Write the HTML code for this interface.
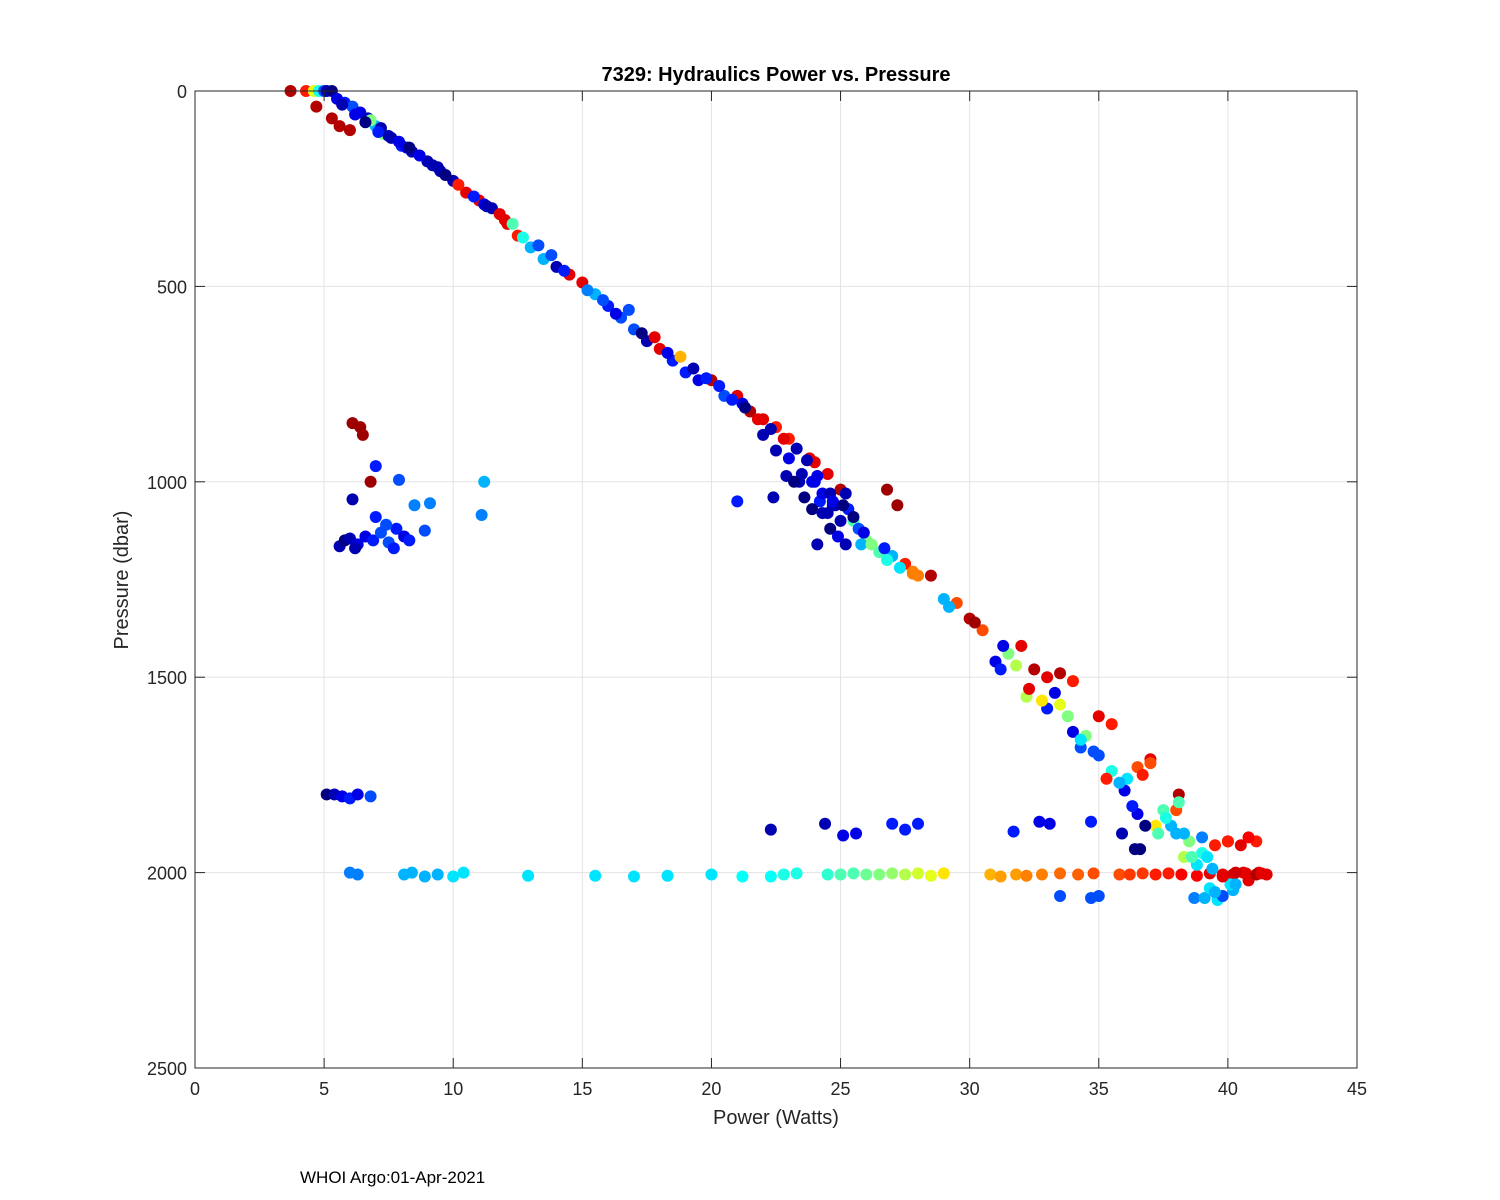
<!DOCTYPE html>
<html><head><meta charset="utf-8"><style>
body{margin:0;background:#fff;}
svg{display:block;font-family:"Liberation Sans",Arial,sans-serif;}
</style></head><body>
<svg id="chart" width="1500" height="1200" viewBox="0 0 1500 1200">
<rect x="0" y="0" width="1500" height="1200" fill="#fff"/>
<g id="grid"></g>
<g id="marks"></g>
<rect x="195" y="91" width="1162" height="977" fill="none" stroke="#262626" stroke-width="1"/>
<g id="ticks"></g>
<text x="776" y="81" text-anchor="middle" font-size="20" font-weight="bold" fill="#000">7329: Hydraulics Power vs. Pressure</text>
<text x="776" y="1124" text-anchor="middle" font-size="20" fill="#262626">Power (Watts)</text>
<text transform="translate(128,580) rotate(-90)" text-anchor="middle" font-size="20" fill="#262626">Pressure (dbar)</text>
<text x="300" y="1183" font-size="17" fill="#000">WHOI Argo:01-Apr-2021</text>
</svg>
<script>
const xTicks=[0,5,10,15,20,25,30,35,40,45];
const yTicks=[0,500,1000,1500,2000,2500];
const powerVals=[3.7,4.3,4.6,4.8,5.0,5.1,5.3,4.7,5.3,5.6,6.0,5.5,5.8,6.1,6.4,6.7,7.0,7.3,7.6,8.0,8.4,9.0,9.5,10.0,10.5,11.0,11.5,12.0,12.5,13.0,13.5,14.0,14.5,15.0,15.5,16.0,16.5,17.0,17.5,18.0,18.5,19.0,19.5,20.0,20.5,21.0,21.5,22.0,22.5,23.0,22.0,22.5,23.0,23.5,24.0,24.5,25.0,24.2,24.5,25.0,25.5,26.0,26.5,27.0,27.5,28.0,28.5,29.0,29.5,30.0,30.5,31.0,31.5,32.0,32.5,33.0,33.5,33.0,33.5,34.0,34.0,34.5,35.0,35.5,35.0,35.5,36.0,36.5,36.5,37.0,37.5,38.0,38.0,38.5,39.0,39.5,40.0,40.5,
6.8,7.2,8.2,9.4,11.2,12.1,12.7,13.8,16.8,17.8,18.8,19.8,21.2,23.8,24.8,25.8,26.8,27.8,31.2,32.2,34.3,36.1,37.2,38.3,39.2,
6.1,6.4,6.5,7.0,6.8,7.9,6.1,8.5,9.1,11.2,11.1,8.9,5.6,5.8,6.0,6.3,6.6,6.9,7.2,7.5,7.8,8.1,8.3,7.0,7.4,7.7,6.2,
21.0,22.4,22.9,23.4,23.9,24.3,24.7,25.2,24.0,26.8,27.2,
5.1,5.4,5.7,6.0,6.3,6.8,
6.0,6.3,8.1,8.4,8.9,9.4,10.0,10.4,12.9,15.5,17.0,18.3,20.0,21.2,22.3,22.8,23.3,24.5,25.0,25.5,26.0,26.5,27.0,27.5,28.0,28.5,29.0,30.8,31.2,31.8,32.2,32.8,33.5,34.2,34.8,35.8,36.2,36.7,37.2,37.7,38.2,38.8,39.3,39.8,40.2,40.7,41.2,41.5,
22.3,24.4,25.1,25.6,27.0,27.5,28.0,31.7,32.7,33.1,34.7,
33.5,34.7,35.0,38.7,39.1,39.6,40.2,
36.6,38.1,40.6,41.1,40.1,
5.7,6.2,6.6,7.1,7.5,7.9,8.3,8.7,9.2,9.7,10.2,10.8,11.3,11.8,12.3,13.3,14.3,15.2,15.8,16.3,17.3,18.3,19.3,20.3,20.8,21.3,21.8,22.3,22.8,23.3,23.7,24.1,24.6,25.3,25.7,26.2,26.7,27.3,27.8,29.2,30.2,31.3,31.8,32.3,32.8,33.3,33.8,34.3,34.8,35.3,35.8,36.3,36.8,37.3,37.8,38.3,38.8,39.3,39.8,40.3,40.8,41.2,
23.2,23.6,24.3,24.6,24.9,25.2,25.5,25.9,23.9,24.1,24.7,25.1,
38.6,39.0,39.4,39.8,40.3,40.8,41.1,41.3,40.0,39.5,
36.4,35.9,36.7,37.0,37.6,38.1];
const pressureVals=[0,0,0,0,0,0,0,40,70,90,100,20,30,40,55,70,90,110,120,140,155,180,205,230,260,280,300,330,370,400,430,450,470,490,520,550,580,610,640,660,690,720,740,740,780,780,820,840,860,890,880,920,940,980,950,980,1020,1050,1080,1100,1100,1150,1180,1190,1210,1240,1240,1300,1310,1350,1380,1460,1440,1420,1480,1500,1490,1580,1570,1510,1640,1650,1600,1620,1700,1740,1790,1850,1730,1710,1840,1840,1900,1920,1950,1930,1920,1930,
75,95,145,195,290,340,375,420,560,630,680,735,800,940,1060,1160,1200,1230,1480,1550,1680,1760,1880,1900,1960,
850,860,880,960,1000,995,1045,1060,1055,1000,1085,1125,1165,1150,1145,1160,1140,1150,1130,1155,1120,1140,1150,1090,1110,1170,1170,
1050,1040,985,1000,1000,1030,1060,1030,1000,1020,1060,
1800,1800,1805,1810,1800,1805,
2000,2005,2005,2000,2010,2005,2010,2000,2008,2008,2010,2008,2005,2010,2010,2005,2002,2005,2005,2002,2005,2005,2002,2005,2002,2008,2002,2005,2010,2005,2008,2005,2002,2005,2002,2005,2005,2002,2005,2002,2005,2008,2002,2005,2005,2002,2002,2005,
1890,1875,1905,1900,1875,1890,1875,1895,1870,1875,1870,
2060,2065,2060,2065,2065,2070,2045,
1940,1800,2000,1920,2030,
35,60,80,105,115,130,145,165,190,215,240,270,295,315,340,395,460,510,535,570,620,670,710,755,790,810,840,865,890,915,945,985,1030,1070,1120,1160,1170,1220,1235,1320,1360,1420,1470,1530,1560,1540,1600,1660,1690,1760,1770,1830,1880,1900,1880,1960,1980,2040,2060,2030,2020,2000,
1000,1040,1080,1120,1140,1160,1090,1130,1070,1160,1050,1060,
1960,1910,1990,2010,2000,1910,2005,2002,1920,2050,
1940,1900,1750,1720,1860,1820];
const colorVals=[0.95,0.85,0.6,0.4,0.2,0.05,0.0,0.95,0.95,0.95,0.95,0.1,0.15,0.2,0.1,0.05,0.3,0.5,0.05,0.15,0.05,0.05,0.05,0.05,0.9,0.9,0.05,0.9,0.85,0.3,0.3,0.05,0.9,0.9,0.3,0.15,0.2,0.2,0.05,0.9,0.15,0.15,0.1,0.95,0.2,0.9,0.95,0.9,0.85,0.85,0.05,0.05,0.1,0.05,0.9,0.9,0.95,0.15,0.05,0.05,0.45,0.5,0.45,0.3,0.85,0.75,0.95,0.3,0.8,0.95,0.8,0.1,0.5,0.9,0.95,0.9,0.95,0.15,0.6,0.85,0.1,0.5,0.9,0.85,0.2,0.4,0.1,0.1,0.8,0.9,0.45,0.8,0.3,0.5,0.4,0.85,0.9,0.9,
0.5,0.05,0.1,0.05,0.1,0.9,0.4,0.2,0.2,0.9,0.7,0.15,0.1,0.9,0.05,0.3,0.4,0.75,0.15,0.55,0.2,0.35,0.65,0.3,0.35,
0.97,0.97,0.97,0.15,0.97,0.2,0.05,0.25,0.25,0.3,0.25,0.2,0.05,0.0,0.05,0.1,0.1,0.15,0.2,0.2,0.15,0.1,0.15,0.15,0.2,0.15,0.05,
0.15,0.05,0.05,0.05,0.1,0.1,0.05,0.05,0.1,0.97,0.97,
0.0,0.05,0.1,0.15,0.1,0.2,
0.25,0.25,0.3,0.3,0.3,0.3,0.35,0.35,0.35,0.35,0.35,0.35,0.35,0.38,0.38,0.4,0.4,0.42,0.45,0.45,0.48,0.5,0.52,0.55,0.58,0.6,0.65,0.7,0.72,0.72,0.75,0.75,0.77,0.78,0.8,0.8,0.82,0.82,0.85,0.85,0.88,0.88,0.9,0.9,0.92,0.9,0.9,0.9,
0.05,0.05,0.1,0.1,0.15,0.15,0.15,0.15,0.1,0.1,0.15,
0.2,0.2,0.2,0.25,0.3,0.35,0.3,
0.0,0.95,0.9,0.85,0.35,
0.05,0.1,0.0,0.15,0.05,0.1,0.0,0.1,0.05,0.0,0.85,0.15,0.05,0.9,0.45,0.2,0.15,0.25,0.2,0.1,0.0,0.1,0.05,0.15,0.15,0.0,0.9,0.05,0.9,0.05,0.05,0.1,0.05,0.15,0.2,0.5,0.15,0.35,0.75,0.3,0.97,0.1,0.55,0.9,0.65,0.1,0.5,0.35,0.2,0.85,0.3,0.15,0.0,0.45,0.3,0.55,0.35,0.35,0.2,0.3,0.9,0.9,
0.0,0.0,0.05,0.0,0.1,0.05,0.0,0.1,0.0,0.05,0.1,0.0,
0.45,0.25,0.3,0.9,0.92,0.88,0.95,0.9,0.85,0.3,
0.0,0.05,0.85,0.8,0.4,0.45];
const NS="http://www.w3.org/2000/svg";
const X0=195,X1=1357,Y0=91,Y1=1068;
function xs(v){return X0+(v-0)/(45-0)*(X1-X0);}
function ys(v){return Y0+(v-0)/(2500-0)*(Y1-Y0);}
function cl(v){return Math.max(0,Math.min(1,v));}
function jet(c){const r=cl(1.5-Math.abs(4*c-3)),g=cl(1.5-Math.abs(4*c-2)),b=cl(1.5-Math.abs(4*c-1));return `rgb(${Math.round(r*255)},${Math.round(g*255)},${Math.round(b*255)})`;}
const grid=document.getElementById('grid'),ticks=document.getElementById('ticks'),marks=document.getElementById('marks');
function mk(tag,attrs,parent){const e=document.createElementNS(NS,tag);for(const k in attrs)e.setAttribute(k,attrs[k]);parent.appendChild(e);return e;}
xTicks.forEach(t=>{const x=xs(t);
 const gl=mk('line',{x1:x,x2:x,y1:Y0,y2:Y1,stroke:'#e3e3e3','stroke-width':1},grid);
 
 
 mk('line',{x1:x,x2:x,y1:Y1,y2:Y1-10,stroke:'#262626'},ticks);
 mk('line',{x1:x,x2:x,y1:Y0,y2:Y0+10,stroke:'#262626'},ticks);
 const tx=mk('text',{x:x,y:Y1+27,'text-anchor':'middle','font-size':18,fill:'#262626'},ticks);
 tx.textContent=t;
 
 
});
yTicks.forEach(t=>{const y=ys(t);
 const gl=mk('line',{x1:X0,x2:X1,y1:y,y2:y,stroke:'#e3e3e3','stroke-width':1},grid);
 
 
 mk('line',{x1:X0,x2:X0+10,y1:y,y2:y,stroke:'#262626'},ticks);
 mk('line',{x1:X1,x2:X1-10,y1:y,y2:y,stroke:'#262626'},ticks);
 const tx=mk('text',{x:X0-8,y:y+7,'text-anchor':'end','font-size':18,fill:'#262626'},ticks);
 tx.textContent=t;
 
 
});
for(let i=0;i<powerVals.length;i++){
 const c=mk('circle',{cx:xs(powerVals[i]),cy:ys(pressureVals[i]),r:6,fill:jet(colorVals[i])},marks);
 
 
}
</script>
</body></html>
